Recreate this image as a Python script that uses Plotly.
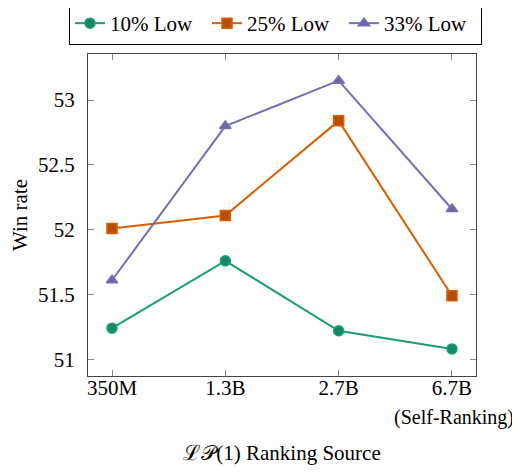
import plotly.graph_objects as go

categories = ["350M", "1.3B", "2.7B", "6.7B"]
low10 = [51.24, 51.76, 51.22, 51.08]
low25 = [52.01, 52.11, 52.84, 51.49]
low33 = [51.61, 52.80, 53.15, 52.16]
series_names = ["10% Low", "25% Low", "33% Low"]
y_ticks = [51, 51.5, 52, 52.5, 53]

colors = ["#1b9e77", "#d95f02", "#7570b3"]
fills = ["#138a67", "#b84f00", "#6b66a8"]
symbols = ["circle", "square", "triangle-up"]

xs = list(range(len(categories)))
fig = go.Figure()
for name, vals, c, fc, s in zip(series_names, [low10, low25, low33], colors, fills, symbols):
    fig.add_trace(go.Scatter(
        x=xs, y=vals, name=name, mode="lines+markers",
        line=dict(color=c, width=2),
        marker=dict(symbol=s, size=10, color=fc, line=dict(color=c, width=1.5)),
    ))

ff = "Liberation Serif"
fs = 21
fig.update_layout(
    width=512, height=464,
    margin=dict(l=80, r=44, t=46, b=96, autoexpand=False),
    paper_bgcolor="white", plot_bgcolor="white",
    font=dict(family=ff, size=fs, color="black"),
    legend=dict(orientation="h", x=-19/388, xanchor="left", y=1 + 9/322, yanchor="bottom",
                bordercolor="black", borderwidth=1, entrywidth=92,
                font=dict(family=ff, size=fs), itemwidth=30, tracegroupgap=0),
    showlegend=True,
)
fig.update_xaxes(
    tickvals=xs, ticktext=categories, range=[-0.212, 3.212], automargin=False,
    showline=True, linecolor="#444", linewidth=1.2, mirror="allticks",
    ticks="inside", ticklen=6, tickcolor="#888", showgrid=False, zeroline=False,
    tickfont=dict(family=ff, size=fs), ticklabelstandoff=-7,
    title=dict(text="ℒ𝒫(1) Ranking Source", font=dict(family=ff, size=fs), standoff=46),
)
fig.update_yaxes(
    tickvals=y_ticks, ticktext=[str(v) for v in y_ticks], range=[50.871, 53.356], automargin=False,
    showline=True, linecolor="#444", linewidth=1.2, mirror="allticks",
    ticks="inside", ticklen=6, tickcolor="#888", showgrid=False, zeroline=False,
    tickfont=dict(family=ff, size=fs), ticklabelstandoff=8,
    title=dict(text="Win rate", font=dict(family=ff, size=fs), standoff=12),
)
fig.add_annotation(text="(Self-Ranking)", x=3, y=0, xref="x", yref="paper",
                   xshift=64, yshift=-41, xanchor="right", yanchor="middle", showarrow=False,
                   font=dict(size=20, family=ff))
fig.write_html("out.html")
